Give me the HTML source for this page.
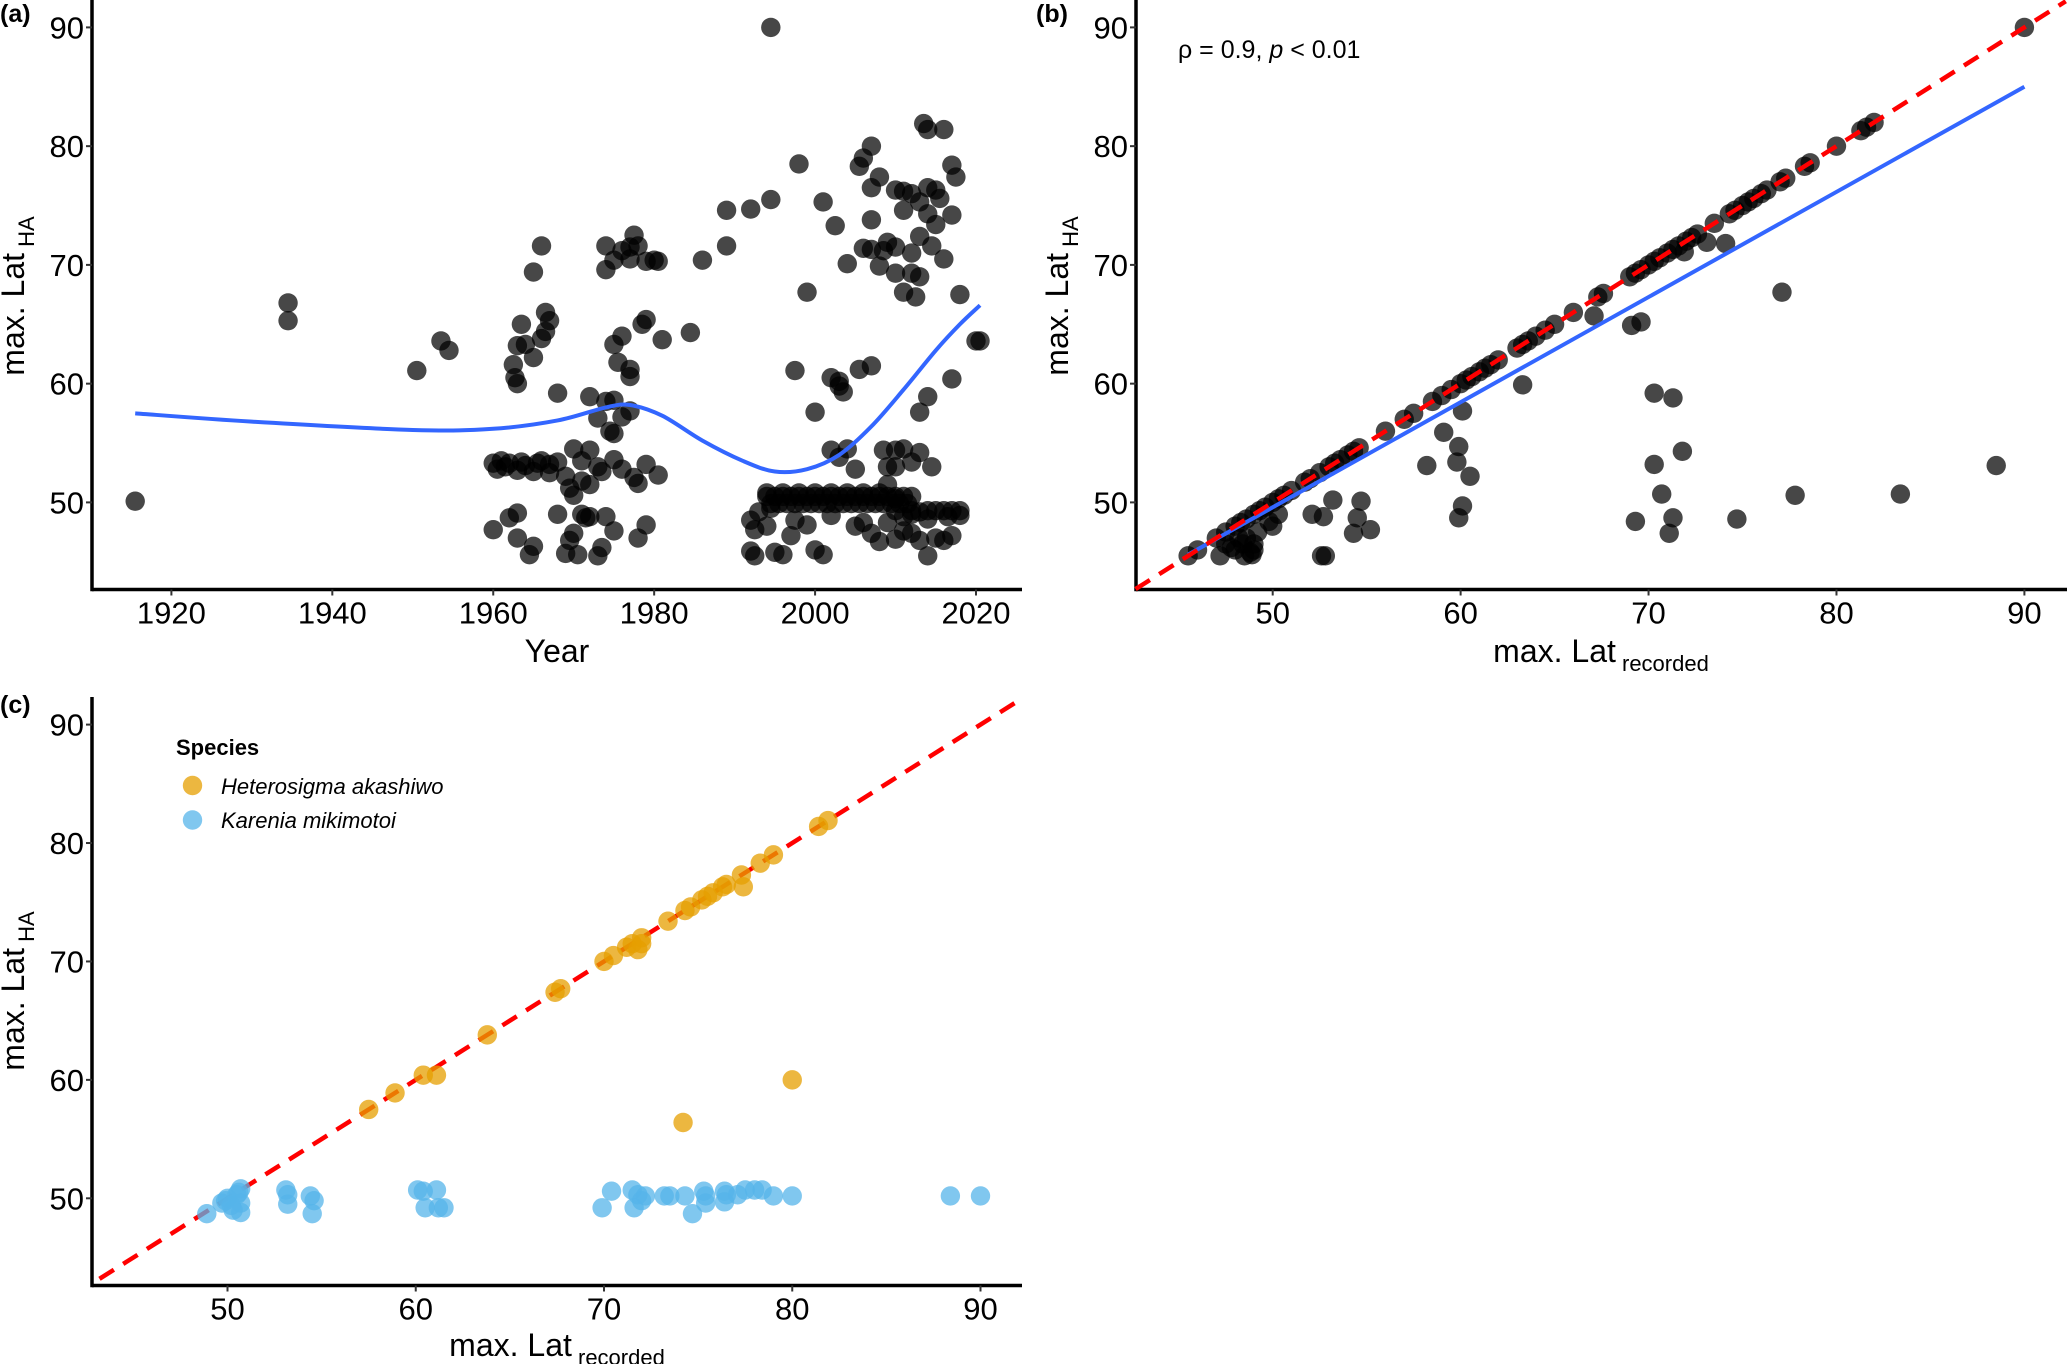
<!DOCTYPE html>
<html><head><meta charset="utf-8">
<style>
html,body{margin:0;padding:0;background:#fff;}
svg{display:block;font-family:"Liberation Sans",Arial,sans-serif;}
</style></head>
<body>
<svg id="fig" width="2067" height="1364" viewBox="0 0 2067 1364" xmlns="http://www.w3.org/2000/svg"></svg>
<script>
// ---------- Panel (a) data ----------
const aYears = [1915.5,1934.5,1934.5,1950.5,1953.5,1954.5,
1960,1960.5,1961,1961.5,1962,1963,1963.5,1964,1965,1965.5,1966,1967,1967,1968,1969,1969.5,1970,1970,1971,1971,1972,1972,1973,1973.5,1975,1976,1977.5,1978,1979,1980.5,
1960,1962,1963,1963,1964.5,1965,1968,1969,1969.5,1970,1970.5,1971,1971.5,1972,1973,1973.5,1974,1975,1978,1979,
1962.5,1962.7,1963,1963,1963.5,1964,1965,1965,1966,1966,1966.5,1966.5,1967,1968,1972,1973,1974,1974.5,1975,1975,1975,1975.5,1976,1977,1977,1976,1977,
1974,1974,1975,1976,1977,1977.5,1977,1978,1979,1980,1980.5,1978.5,1979,1981,1984.5,1986,1989,1989,1992,1994.5,1994.5,
1998,1997.5,1999,2000,2001,2002.5,2002,2003,2003.5,2003,2002,2003,2004,2005,2005.5,2007,2004,2005.5,2006,2007,2007,2007,2008,2008,2006,2007,2008.5,2009,2010,2010,2010,2011,2011,2011,2012,2012,2012.5,2012,2013,2013,2013,2013.5,2014,2014,2014,2014.5,2015,2015,2015.5,2016,2016,2017,2017,2017.5,2018,2017,2014,2013,2020,2020.5,
2008.5,2009,2010,2010,2011,2012,2013,2014.5,2009,2010,
1994,1995,1996,1997,1998,1999,2000,2001,2002,2003,2004,2005,2006,2007,2008,2009,2010,2011,2012,
1994.5,1995.5,1996.5,1997.5,1998.5,1999.5,2000.5,2001.5,2002.5,2003.5,2004.5,2005.5,2006.5,2007.5,2008.5,2009.5,2010.5,2011.5,
1994,1996,1998,2000,2002,2004,2006,2008,2010,2012,2014,2016,2018,
1992,1992.5,1993,1994,1994.5,1992,1992.5,1995,1996,1997,1997.5,1999,2000,2001,2002,2005,2006,2007,2008,2010,2011,2012,2013,2014,2014,2015,2016,2016.5,2017,2018,2017,2012,2013,2015,2009,2011];
const aValues = [50.1,66.8,65.3,61.1,63.6,62.8,
53.3,52.8,53.5,53,53.3,52.7,53.4,53.1,52.6,53.3,53.5,52.5,53.2,53.4,52.2,51.2,50.6,54.5,53.5,51.8,54.4,51.5,53,52.6,53.6,52.8,52.1,51.6,53.2,52.3,
47.7,48.7,49.1,47,45.6,46.3,49,45.7,46.8,47.4,45.6,49,48.7,48.8,45.5,46.2,48.8,47.6,47,48.1,
61.6,60.5,60,63.2,65,63.3,62.2,69.4,71.6,63.8,64.4,66,65.3,59.2,58.9,57.1,58.5,56,55.8,58.6,63.3,61.8,64,60.6,61.2,57.2,57.7,
69.6,71.6,70.4,71.2,71.5,72.5,70.5,71.6,70.3,70.4,70.3,65,65.4,63.7,64.3,70.4,71.6,74.6,74.7,75.5,90,
78.5,61.1,67.7,57.6,75.3,73.3,60.5,59.8,59.3,60.2,54.4,53.8,54.5,52.8,61.2,61.5,70.1,78.3,79,80,76.5,73.8,77.4,69.9,71.4,71.3,71.2,71.9,71.5,76.3,69.3,76.2,74.6,67.7,76,71,67.3,69.3,75.3,69,72.4,81.9,81.4,76.5,74.3,71.6,76.3,73.4,75.6,81.4,70.5,78.4,74.2,77.4,67.5,60.4,58.9,57.6,63.6,63.6,
54.4,53,54.4,53,54.5,53.4,54.2,53,51.5,50.3,
50.5,50.5,50.5,50.5,50.5,50.5,50.5,50.5,50.5,50.5,50.5,50.5,50.5,50.5,50.5,50.5,50.5,50.5,50.5,
49.9,49.9,49.9,49.9,49.9,49.9,49.9,49.9,49.9,49.9,49.9,49.9,49.9,49.9,49.9,49.9,49.9,49.9,
50.8,50.8,50.8,50.8,50.8,50.8,50.8,50.8,49.3,49.3,49.3,49.3,49.3,
48.5,47.7,49.2,48,49.5,45.9,45.5,45.8,45.6,47.2,48.5,48.1,46,45.6,48.9,48,48.3,47.4,46.7,46.9,47.6,47.4,46.8,45.5,48.6,47,46.8,48.8,47.2,48.9,49.3,49,49.2,49.3,48.3,48.8];
const aSmoothX = [1915.5,1930,1950,1960,1968,1974,1977,1981,1986,1991,1995,1999,2003,2007,2011,2015,2018,2020.5];
const aSmoothY = [57.5,56.8,56.1,56.2,56.9,58,58.2,57.3,55.2,53.5,52.6,52.8,54,56.4,59.5,62.8,65,66.6];
const aXTicks = [1920,1940,1960,1980,2000,2020];
const yTicks = [50,60,70,80,90];

// ---------- Panel (b) data ----------
const bDiag = [45.5,46,47,47.5,48,48.3,48.6,49,49.3,49.6,50,50.3,50.6,51,51.7,52,52.5,53,53.3,53.6,54,54.3,54.6,56,57,57.5,58.5,59,59.5,60,60.3,60.6,61,61.3,61.6,62,63,63.3,63.6,64,64.5,65,66,67.3,67.6,69,69.3,69.6,70,70.3,70.6,71,71.3,71.6,72,72.3,72.6,73.5,74.3,74.6,75,75.3,75.6,76,76.3,77,77.3,78.3,78.6,80,81.3,81.6,82,90];
const bOffX = [58.2,59.1,59.9,59.8,60.5,60.1,59.9,60.1,63.3,69.1,69.6,67.1,70.3,71.3,70.3,70.7,71.8,69.3,71.3,71.1,74.7,77.1,77.8,83.4,88.5,74.1,73.1,71.9,
54.7,54.5,55.2,54.3,53.2,52.7,52.1,52.6,52.8,49.8,50.3,49,47.5,48,48.5,48.8,49,48.2,47.2,48.6,49.2,50,48.4,48.9,47.8];
const bOffY = [53.1,55.9,54.7,53.4,52.2,49.7,48.7,57.7,59.9,64.9,65.2,65.7,59.2,58.8,53.2,50.7,54.3,48.4,48.7,47.4,48.6,67.7,50.6,50.7,53.1,71.8,71.9,71.1,
50.1,48.7,47.7,47.4,50.2,48.8,49,45.5,45.5,48.4,49,46.5,46.5,46,45.5,45.8,46,47,45.5,47,47.5,48,46.5,45.6,46.2];
const bFitX = [45.5,90];
const bFitY = [45.6,85];
const bXTicks = [50,60,70,80,90];

// ---------- Panel (c) data ----------
const cOrangeX = [57.5,58.9,60.4,61.1,63.8,67.4,67.7,70,70.5,71.2,71.5,72,71.8,72,73.4,74.3,74.6,75.2,75.5,75.8,76.3,76.5,77.3,77.4,78.3,79,81.4,81.9,74.2,80];
const cOrangeY = [57.5,58.9,60.4,60.4,63.8,67.4,67.7,70,70.5,71.2,71.5,72,71,71.5,73.4,74.3,74.6,75.2,75.5,75.8,76.3,76.5,77.3,76.3,78.3,79,81.4,81.9,56.4,60];
const cBlueX = [48.9,49.7,50,50.2,50.5,50.7,50.7,50.3,49.9,50.7,50.6,53.1,53.2,53.2,54.4,54.6,54.5,60.1,60.4,60.5,61.1,61.2,61.5,69.9,70.4,71.5,71.6,71.8,72,72.2,73.2,73.5,74.3,74.7,75.3,75.4,75.4,76.4,76.4,76.5,77.1,77.5,78,78.4,79,80,88.4,90];
const cBlueY = [48.7,49.6,50,49.4,50.3,50.8,48.8,49,49.8,49.6,50.5,50.7,50.3,49.5,50.2,49.8,48.7,50.7,50.6,49.2,50.7,49.2,49.2,49.2,50.6,50.7,49.2,50.3,49.8,50.2,50.2,50.2,50.2,48.7,50.6,50.2,49.6,50.6,49.7,50.3,50.3,50.7,50.7,50.7,50.2,50.2,50.2,50.2];

const NS = "http://www.w3.org/2000/svg";
const svg = document.getElementById('fig');
function el(tag, attrs, parent){
  const e = document.createElementNS(NS, tag);
  for (const k in attrs) e.setAttribute(k, attrs[k]);
  (parent||svg).appendChild(e);
  return e;
}
function group(name){
  const g = el('g', {});
  
  
  return g;
}
function lin(d0,d1,p0,p1){ return v => p0 + (v-d0)*(p1-p0)/(d1-d0); }

function axes(g, cfg){
  // cfg: x0,x1 (px), yTop,yBot, sx, sy, xt, yt, xFmt, prefix
  const ax = el('line',{x1:cfg.left,y1:cfg.bottom,x2:cfg.right,y2:cfg.bottom,stroke:'#000','stroke-width':3.5},g);
  
  
  const ay = el('line',{x1:cfg.left,y1:cfg.top,x2:cfg.left,y2:cfg.bottom+1.7,stroke:'#000','stroke-width':3.5},g);
  
  
  cfg.xt.forEach(v=>{
    const x = cfg.sx(v);
    const tk = el('line',{x1:x,y1:cfg.bottom,x2:x,y2:cfg.bottom+6,stroke:'#333','stroke-width':2},g);
    
    
    const t = el('text',{x:x,y:cfg.bottom+34,'text-anchor':'middle','font-size':31,fill:'#000'},g);
    t.textContent = v;
    
    
  });
  cfg.yt.forEach(v=>{
    const y = cfg.sy(v);
    const tk = el('line',{x1:cfg.left-6,y1:y,x2:cfg.left,y2:y,stroke:'#333','stroke-width':2},g);
    
    
    const t = el('text',{x:cfg.left-8,y:y+11,'text-anchor':'end','font-size':31,fill:'#000'},g);
    t.textContent = v;
    
    
  });
}
function yTitle(g, x, y, name){
  const t = el('text',{x:0,y:0,transform:`translate(${x},${y}) rotate(-90)`,'text-anchor':'middle','font-size':32,fill:'#000'},g);
  t.innerHTML = 'max. Lat<tspan dy="10" font-size="22"> HA</tspan>';
  
  
}
function xTitleLat(g, x, y, name){
  const t = el('text',{x:x,y:y,'text-anchor':'middle','font-size':32,fill:'#000'},g);
  t.innerHTML = 'max. Lat<tspan dy="9" font-size="22"> recorded</tspan>';
  
  
}
function panelLabel(txt,x,y,name){
  const t = el('text',{x:x,y:y,'font-size':25,'font-weight':'bold',fill:'#000'});
  t.textContent = txt;
  
  
}
function smoothPath(pts){
  let d = `M${pts[0][0]},${pts[0][1]}`;
  for (let i=0;i<pts.length-1;i++){
    const p0 = pts[Math.max(0,i-1)], p1 = pts[i], p2 = pts[i+1], p3 = pts[Math.min(pts.length-1,i+2)];
    const c1x = p1[0]+(p2[0]-p0[0])/6, c1y = p1[1]+(p2[1]-p0[1])/6;
    const c2x = p2[0]-(p3[0]-p1[0])/6, c2y = p2[1]-(p3[1]-p1[1])/6;
    d += ` C${c1x},${c1y} ${c2x},${c2y} ${p2[0]},${p2[1]}`;
  }
  return d;
}

// ===== Panel A =====
(function(){
  const g = group('panel-a');
  const sx = lin(1920,2020,171.4,976);
  const sy = lin(50,90,502.4,27.4);
  const cfg = {p:'panel-a',left:92,right:1022,top:0,bottom:589.5,sx,sy,xt:aXTicks,yt:yTicks};
  axes(g,cfg);
  const pg = group('panel-a-points'); g.appendChild(pg);
  aYears.forEach((yr,i)=>{
    const c = el('circle',{cx:sx(yr),cy:sy(aValues[i]),r:9.7,fill:'#000','fill-opacity':0.72},pg);
    
    
  });
  const pts = aSmoothX.map((x,i)=>[sx(x),sy(aSmoothY[i])]);
  const p = el('path',{d:smoothPath(pts),fill:'none',stroke:'#3366FF','stroke-width':4},g);
  
  
  const t = el('text',{x:557,y:662,'text-anchor':'middle','font-size':32,fill:'#000'},g);
  t.textContent = 'Year';
  
  
  yTitle(g, 24, 296, 'panel-a-y-axis-title');
})();
panelLabel('(a)',0,22,'panel-a-label');

// ===== Panel B =====
(function(){
  const g = group('panel-b');
  const sx = lin(50,90,1272.7,2024.4);
  const sy = lin(50,90,502.4,27.4);
  const cfg = {p:'panel-b',left:1136,right:2067,top:0,bottom:589.5,sx,sy,xt:bXTicks,yt:yTicks};
  axes(g,cfg);
  const pg = group('panel-b-points'); g.appendChild(pg);
  bDiag.forEach(v=>{
    const c = el('circle',{cx:sx(v),cy:sy(v),r:9.7,fill:'#000','fill-opacity':0.72},pg);
    
    
  });
  bOffX.forEach((v,i)=>{
    const c = el('circle',{cx:sx(v),cy:sy(bOffY[i]),r:9.7,fill:'#000','fill-opacity':0.72},pg);
    
    
  });
  const fit = el('line',{x1:sx(bFitX[0]),y1:sy(bFitY[0]),x2:sx(bFitX[1]),y2:sy(bFitY[1]),stroke:'#3366FF','stroke-width':4},g);
  
  
  const dl = el('line',{x1:sx(42.7),y1:sy(42.7),x2:sx(92.2),y2:sy(92.2),stroke:'#FF0000','stroke-width':4.5,'stroke-dasharray':'17 11'},g);
  
  
  const a = el('text',{x:1178,y:58,'font-size':25,fill:'#000'},g);
  a.innerHTML = 'ρ = 0.9, <tspan font-style="italic">p</tspan> &lt; 0.01';
  
  
  xTitleLat(g, 1601, 662, 'panel-b-x-axis-title');
  yTitle(g, 1068, 296, 'panel-b-y-axis-title');
})();
panelLabel('(b)',1036,22,'panel-b-label');

// ===== Panel C =====
(function(){
  const g = group('panel-c');
  const sx = lin(50,90,227.5,980.5);
  const sy = lin(50,90,1198.3,724.6);
  const cfg = {p:'panel-c',left:92,right:1022,top:697,bottom:1285.5,sx,sy,xt:bXTicks,yt:yTicks};
  axes(g,cfg);
  const dl = el('line',{x1:sx(43.2),y1:sy(43.2),x2:sx(92.3),y2:sy(92.3),stroke:'#FF0000','stroke-width':4.5,'stroke-dasharray':'17 11'},g);
  
  
  const pg = group('panel-c-points'); g.appendChild(pg);
  cOrangeX.forEach((v,i)=>{
    const c = el('circle',{cx:sx(v),cy:sy(cOrangeY[i]),r:9.7,fill:'#E69F00','fill-opacity':0.75},pg);
    
    
  });
  cBlueX.forEach((v,i)=>{
    const c = el('circle',{cx:sx(v),cy:sy(cBlueY[i]),r:9.7,fill:'#56B4E9','fill-opacity':0.75},pg);
    
    
  });
  xTitleLat(g, 557, 1356, 'panel-c-x-axis-title');
  yTitle(g, 24, 991, 'panel-c-y-axis-title');
  const lg = group('species-legend'); g.appendChild(lg);
  const lt = el('text',{x:176,y:755,'font-size':22,'font-weight':'bold',fill:'#000'},lg);
  lt.textContent = 'Species';
  
  
  const c1 = el('circle',{cx:192.5,cy:785.5,r:9.7,fill:'#E69F00','fill-opacity':0.75},lg);
  
  
  const t1 = el('text',{x:221,y:794,'font-size':22,'font-style':'italic',fill:'#000'},lg);
  t1.textContent = 'Heterosigma akashiwo';
  
  
  const c2 = el('circle',{cx:192.5,cy:820,r:9.7,fill:'#56B4E9','fill-opacity':0.75},lg);
  
  
  const t2 = el('text',{x:221,y:828,'font-size':22,'font-style':'italic',fill:'#000'},lg);
  t2.textContent = 'Karenia mikimotoi';
  
  
})();
panelLabel('(c)',0,713,'panel-c-label');
</script>
</body></html>
